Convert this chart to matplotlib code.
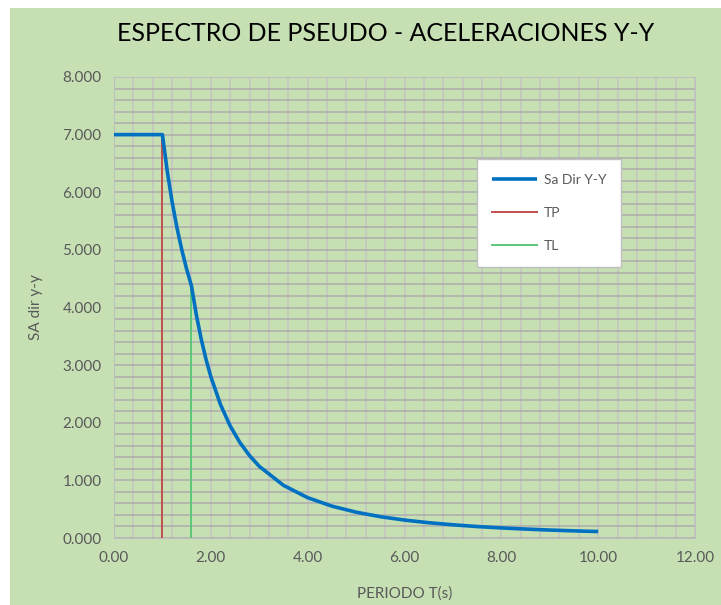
#!/usr/bin/env python3

import matplotlib
matplotlib.use('Agg')
import matplotlib.pyplot as plt
from matplotlib.patches import Rectangle
from matplotlib.ticker import MultipleLocator, FormatStrFormatter

# spectrum
periodo = [0.0, 0.2, 0.4, 0.6, 0.8, 1.0, 1.1, 1.2, 1.3, 1.4, 1.5, 1.6,
           1.7, 1.8, 1.9, 2.0, 2.2, 2.4, 2.6, 2.8, 3.0, 3.5, 4.0, 4.5,
           5.0, 5.5, 6.0, 6.5, 7.0, 7.5, 8.0, 8.5, 9.0, 9.5, 10.0]
sa_yy = [7.0, 7.0, 7.0, 7.0, 7.0, 7.0, 6.364, 5.833, 5.385, 5.0, 4.667, 4.375,
         3.875, 3.457, 3.102, 2.8, 2.314, 1.944, 1.657, 1.429, 1.244, 0.914, 0.7, 0.553,
         0.448, 0.370, 0.311, 0.265, 0.229, 0.199, 0.175, 0.155, 0.138, 0.124, 0.112]
tp_x = [1.0, 1.0]
tp_y = [0.0, 7.0]
tl_x = [1.6, 1.6]
tl_y = [0.0, 4.375]

BG = '#c6e0b4'
TXT = '#595959'

def main():
    plt.rcParams['font.family'] = ['Lato', 'DejaVu Sans']

    fig = plt.figure(figsize=(7.21, 6.05), dpi=100)
    fig.patch.set_facecolor('white')
    fig.patches.append(Rectangle((10 / 721, 0), 1, (605 - 8) / 605,
                                 transform=fig.transFigure, facecolor=BG,
                                 edgecolor='none', zorder=-10))

    ax = fig.add_axes([114 / 721, 67 / 605, 581 / 721, 461 / 605])
    ax.set_facecolor(BG)

    ax.plot(periodo, sa_yy, color='#0070c0', lw=2.6, label='Sa Dir Y-Y', zorder=4,
            solid_capstyle='butt')
    ax.plot(tp_x, tp_y, color='#c0504d', lw=1.4, label='TP', zorder=3)
    ax.plot(tl_x, tl_y, color='#5bc878', lw=1.4, label='TL', zorder=3)

    ax.set_xlim(0, 12)
    ax.set_ylim(0, 8)
    ax.xaxis.set_major_locator(MultipleLocator(2))
    ax.xaxis.set_minor_locator(MultipleLocator(0.4))
    ax.yaxis.set_major_locator(MultipleLocator(1))
    ax.yaxis.set_minor_locator(MultipleLocator(0.2))
    ax.xaxis.set_major_formatter(FormatStrFormatter('%.2f'))
    ax.yaxis.set_major_formatter(FormatStrFormatter('%.3f'))

    ax.grid(which='both', axis='x', color='#c4c4c4', lw=1.1)
    ax.grid(which='both', axis='y', color='#adadad', lw=1.1)
    ax.set_axisbelow(True)
    ax.tick_params(which='both', length=0, labelsize=11, colors=TXT, pad=9)
    for s in ax.spines.values():
        s.set_color('#bfbfbf')

    ax.set_xlabel('PERIODO T(s)', fontsize=11, color=TXT, labelpad=16)
    ax.set_ylabel('SA dir y-y', fontsize=11, color=TXT, labelpad=14)

    fig.text(0.535, 0.945, 'ESPECTRO DE PSEUDO - ACELERACIONES Y-Y',
             ha='center', va='center', fontsize=18, color='black')

    leg = ax.legend(loc='upper left', bbox_to_anchor=(477 / 721, (605 - 159) / 605),
                    bbox_transform=fig.transFigure, fontsize=10, frameon=True,
                    fancybox=False, handlelength=3.2, labelspacing=1.5,
                    borderpad=1.1, borderaxespad=0, handletextpad=0.5)
    leg.get_frame().set_edgecolor('#bfbfbf')
    leg.get_frame().set_facecolor('white')
    leg.get_frame().set_alpha(1)
    for t in leg.get_texts():
        t.set_color(TXT)

    fig.savefig('out.png', dpi=100)

if __name__ == '__main__':
    main()
